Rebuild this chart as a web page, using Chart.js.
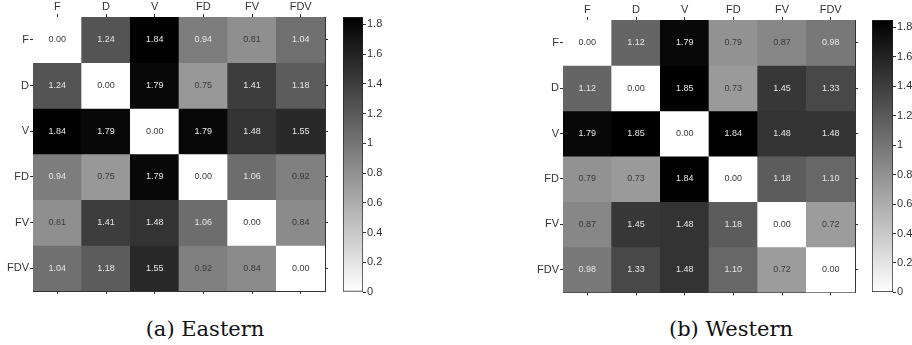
<!DOCTYPE html>
<html>
<head>
<meta charset="utf-8">
<script src="https://cdn.jsdelivr.net/npm/chart.js@4/dist/chart.umd.min.js"></script>
<style>
  body { margin: 0; background: #fff; overflow: hidden; width: 912px; height: 345px; position: relative; }
  canvas { position: absolute; top: 0; }
  .cap { position: absolute; top: 317px; width: 400px; text-align: center; font-family: "DejaVu Serif", serif; font-size: 21px; color: #111; }
</style>
</head>
<body>
<canvas id="heatA" width="335" height="300" style="left:0px"></canvas>
<canvas id="barA" width="60" height="300" style="left:335px"></canvas>
<canvas id="heatB" width="340" height="300" style="left:525px"></canvas>
<canvas id="barB" width="60" height="300" style="left:865px"></canvas>
<div class="cap" style="left:5px">(a) Eastern</div>
<div class="cap" style="left:531px">(b) Western</div>
<script>
const cats = ['F', 'D', 'V', 'FD', 'FV', 'FDV'];

// distance matrices, row by row
const eastern = [
  [0.00, 1.24, 1.84, 0.94, 0.81, 1.04],
  [1.24, 0.00, 1.79, 0.75, 1.41, 1.18],
  [1.84, 1.79, 0.00, 1.79, 1.48, 1.55],
  [0.94, 0.75, 1.79, 0.00, 1.06, 0.92],
  [0.81, 1.41, 1.48, 1.06, 0.00, 0.84],
  [1.04, 1.18, 1.55, 0.92, 0.84, 0.00]
];
const western = [
  [0.00, 1.12, 1.79, 0.79, 0.87, 0.98],
  [1.12, 0.00, 1.85, 0.73, 1.45, 1.33],
  [1.79, 1.85, 0.00, 1.84, 1.48, 1.48],
  [0.79, 0.73, 1.84, 0.00, 1.18, 1.10],
  [0.87, 1.45, 1.48, 1.18, 0.00, 0.72],
  [0.98, 1.33, 1.48, 1.10, 0.72, 0.00]
];
const colorTicks = [0, 0.2, 0.4, 0.6, 0.8, 1, 1.2, 1.4, 1.6, 1.8];
const cmax = 1.85;

const FONT = '"Liberation Sans", Arial, sans-serif';

function gray(v) {
  const g = Math.round(255 * (1 - Math.min(v, cmax) / cmax));
  return `rgb(${g},${g},${g})`;
}

// writes the value in the middle of every cell
const cellText = {
  id: 'cellText',
  afterDatasetsDraw(chart) {
    const rows = chart.options.plugins.cellText.rows;
    const c = chart.ctx;
    c.save();
    c.font = '9px ' + FONT;
    c.textAlign = 'center';
    c.textBaseline = 'middle';
    rows.forEach((row, i) => {
      chart.getDatasetMeta(i).data.forEach((bar, j) => {
        const v = row[j];
        c.fillStyle = v > 0.93 ? '#e6e6e6' : '#3a3a3a';
        c.fillText(v.toFixed(2), bar.x, (bar.y + bar.base) / 2);
      });
    });
    c.restore();
  }
};

function rowTicks(s) {
  s.ticks = cats.map((c, i) => ({ value: i + 0.5 }));
}

function heatmap(id, rows, box) {
  const tickGrid = { drawOnChartArea: false, tickLength: 3, color: '#333', offset: false };
  const border = { display: true, color: '#333', width: 1 };
  new Chart(document.getElementById(id), {
    type: 'bar',
    data: {
      labels: cats,
      datasets: rows.map((row, i) => ({
        data: row.map(() => [i, i + 1]),
        backgroundColor: row.map(v => gray(v)),
        borderWidth: 0,
        grouped: false,
        barPercentage: 1,
        categoryPercentage: 1
      }))
    },
    options: {
      responsive: false,
      animation: false,
      layout: { padding: box.pad },
      plugins: { legend: { display: false }, tooltip: { enabled: false }, cellText: { rows } },
      scales: {
        x: {
          position: 'top', offset: true,
          grid: tickGrid, border,
          ticks: { font: { family: FONT, size: 11 }, color: '#333', padding: 0, maxRotation: 0 },
          afterFit: s => { s.height = box.top; }
        },
        x2: {
          type: 'category', position: 'bottom', offset: true,
          grid: tickGrid, border,
          ticks: { display: false },
          afterFit: s => { s.height = 3; }
        },
        y: {
          type: 'linear', position: 'left', reverse: true, min: 0, max: 6,
          grid: tickGrid, border,
          afterBuildTicks: rowTicks,
          ticks: { font: { family: FONT, size: 11 }, color: '#333', padding: 1, callback: v => cats[Math.floor(v)] },
          afterFit: s => { s.width = box.left; }
        },
        y2: {
          type: 'linear', position: 'right', reverse: true, min: 0, max: 6,
          grid: tickGrid, border,
          afterBuildTicks: rowTicks,
          ticks: { display: false },
          afterFit: s => { s.width = 3; }
        }
      }
    },
    plugins: [cellText]
  });
}

function colorbar(id, pad) {
  new Chart(document.getElementById(id), {
    type: 'bar',
    data: {
      labels: [''],
      datasets: [{
        data: [[0, cmax]],
        backgroundColor: ctx => {
          const ch = ctx.chart;
          if (!ch.chartArea) return '#888';
          const ys = ch.scales.y;
          const g = ch.ctx.createLinearGradient(0, ys.getPixelForValue(0), 0, ys.getPixelForValue(cmax));
          g.addColorStop(0, gray(0));
          g.addColorStop(1, gray(cmax));
          return g;
        },
        borderColor: '#222',
        borderWidth: 1,
        borderSkipped: false,
        barPercentage: 1,
        categoryPercentage: 1
      }]
    },
    options: {
      responsive: false,
      animation: false,
      layout: { padding: pad },
      plugins: { legend: { display: false }, tooltip: { enabled: false } },
      scales: {
        x: { display: false },
        y: {
          position: 'right', min: 0, max: cmax,
          afterBuildTicks: s => { s.ticks = colorTicks.map(v => ({ value: v })); },
          grid: { drawOnChartArea: false, tickLength: 3, color: '#333' },
          border: { display: false },
          ticks: { font: { family: FONT, size: 11 }, color: '#333', padding: 1, callback: v => String(Number(v.toFixed(1))) },
          afterFit: s => { s.width = 32; }
        }
      }
    }
  });
}

heatmap('heatA', eastern, { top: 17, left: 33, pad: { top: 0, left: 0, right: 7, bottom: 6 } });
colorbar('barA', { top: 17, left: 8, right: 0, bottom: 8 });
heatmap('heatB', western, { top: 20, left: 38, pad: { top: 0, left: 0, right: 7, bottom: 2 } });
colorbar('barB', { top: 20, left: 7, right: 0, bottom: 5 });
</script>
</body>
</html>
